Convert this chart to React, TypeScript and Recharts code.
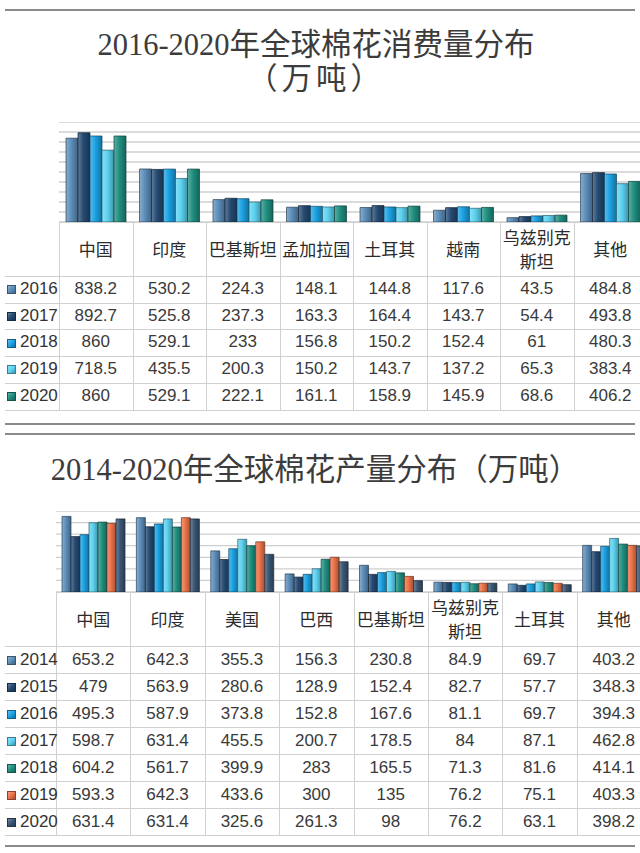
import React from 'react';
import { BarChart, Bar, XAxis, YAxis, CartesianGrid } from 'recharts';

// ---------- Chart 1: consumption ----------
const consTitle1 = '2016-2020年全球棉花消费量分布';
const consTitle2 = '（万吨）';
const consCategories = ['中国', '印度', '巴基斯坦', '孟加拉国', '土耳其', '越南', '乌兹别克斯坦', '其他'];
const consHeaderLines = [['中国'], ['印度'], ['巴基斯坦'], ['孟加拉国'], ['土耳其'], ['越南'], ['乌兹别克', '斯坦'], ['其他']];
const consYears = ['2016', '2017', '2018', '2019', '2020'];
const cons2016 = [838.2, 530.2, 224.3, 148.1, 144.8, 117.6, 43.5, 484.8];
const cons2017 = [892.7, 525.8, 237.3, 163.3, 164.4, 143.7, 54.4, 493.8];
const cons2018 = [860, 529.1, 233, 156.8, 150.2, 152.4, 61, 480.3];
const cons2019 = [718.5, 435.5, 200.3, 150.2, 143.7, 137.2, 65.3, 383.4];
const cons2020 = [860, 529.1, 222.1, 161.1, 158.9, 145.9, 68.6, 406.2];
const consTicks = [0, 100, 200, 300, 400, 500, 600, 700, 800, 900, 1000];

// ---------- Chart 2: production ----------
const prodTitle = '2014-2020年全球棉花产量分布（万吨）';
const prodCategories = ['中国', '印度', '美国', '巴西', '巴基斯坦', '乌兹别克斯坦', '土耳其', '其他'];
const prodHeaderLines = [['中国'], ['印度'], ['美国'], ['巴西'], ['巴基斯坦'], ['乌兹别克', '斯坦'], ['土耳其'], ['其他']];
const prodYears = ['2014', '2015', '2016', '2017', '2018', '2019', '2020'];
const prod2014 = [653.2, 642.3, 355.3, 156.3, 230.8, 84.9, 69.7, 403.2];
const prod2015 = [479, 563.9, 280.6, 128.9, 152.4, 82.7, 57.7, 348.3];
const prod2016 = [495.3, 587.9, 373.8, 152.8, 167.6, 81.1, 69.7, 394.3];
const prod2017 = [598.7, 631.4, 455.5, 200.7, 178.5, 84, 87.1, 462.8];
const prod2018 = [604.2, 561.7, 399.9, 283, 165.5, 71.3, 81.6, 414.1];
const prod2019 = [593.3, 642.3, 433.6, 300, 135, 76.2, 75.1, 403.3];
const prod2020 = [631.4, 631.4, 325.6, 261.3, 98, 76.2, 63.1, 398.2];
const prodTicks = [0, 100, 200, 300, 400, 500, 600, 700];

// ---------- colours ----------
const consColors = ['#5B8DB9', '#254A72', '#1BA1E2', '#5CD2F0', '#1F8F80'];
const prodColors = ['#5B8DB9', '#254A72', '#1BA1E2', '#5CD2F0', '#1F8F80', '#EC7248', '#3A5673'];

const consSeries = [cons2016, cons2017, cons2018, cons2019, cons2020];
const prodSeries = [prod2014, prod2015, prod2016, prod2017, prod2018, prod2019, prod2020];

function buildData(categories: string[], years: string[], series: number[][]) {
  return categories.map((c, i) => {
    const row: Record<string, any> = { name: c };
    years.forEach((y, k) => {
      row['y' + y] = series[k][i];
    });
    return row;
  });
}

const consData = buildData(consCategories, consYears, consSeries);
const prodData = buildData(prodCategories, prodYears, prodSeries);

function shade(hex: string, amt: number) {
  const n = parseInt(hex.slice(1), 16);
  let r = (n >> 16) & 255, g = (n >> 8) & 255, b = n & 255;
  const f = (v: number) => {
    const out = amt >= 0 ? v + (255 - v) * amt : v * (1 + amt);
    return Math.max(0, Math.min(255, Math.round(out)));
  };
  r = f(r); g = f(g); b = f(b);
  return '#' + ((1 << 24) + (r << 16) + (g << 8) + b).toString(16).slice(1);
}

const serifFont = '"Liberation Serif", "DejaVu Serif", "Noto Sans CJK SC", serif';
const cjkFont = '"Noto Sans CJK SC", sans-serif';
const numFont = '"Liberation Sans Narrow", "Liberation Sans", "Noto Sans CJK SC", sans-serif';
const gridColor = '#cfcfcf';
const borderColor = '#d0d0d0';

type BlockProps = {
  id: string;
  data: any[];
  years: string[];
  colors: string[];
  series: number[][];
  headerLines: string[][];
  ticks: number[];
  left: number;
  width: number;
  plotTop: number;
  plotHeight: number;
  headerHeight: number;
  rowTop: number;
  rowHeight: number;
  catGap: number;
};

function Block(p: BlockProps) {
  const n = p.headerLines.length;
  const colW = p.width / n;
  const tableBottom = p.rowTop + p.rowHeight * p.years.length;
  const maxTick = p.ticks[p.ticks.length - 1];
  return (
    <>
      <div style={{ position: 'absolute', left: p.left, top: p.plotTop }}>
        <BarChart
          width={p.width}
          height={p.plotHeight}
          data={p.data}
          margin={{ top: 0, right: 0, bottom: 0, left: 0 }}
          barCategoryGap={p.catGap}
          barGap={0}
        >
          <defs>
            {p.colors.map((c, i) => (
              <linearGradient key={i} id={`${p.id}-g${i}`} x1="0" y1="0" x2="1" y2="0">
                <stop offset="0%" stopColor={shade(c, 0.28)} />
                <stop offset="45%" stopColor={c} />
                <stop offset="100%" stopColor={shade(c, -0.3)} />
              </linearGradient>
            ))}
          </defs>
          <CartesianGrid vertical={false} stroke={gridColor} strokeWidth={1.3} />
          <XAxis dataKey="name" hide />
          <YAxis hide domain={[0, maxTick]} ticks={p.ticks} interval={0} />
          {p.years.map((y, i) => (
            <Bar
              key={y}
              dataKey={'y' + y}
              fill={`url(#${p.id}-g${i})`}
              stroke={shade(p.colors[i], -0.55)}
              strokeWidth={0.7}
              isAnimationActive={false}
            />
          ))}
        </BarChart>
      </div>
      {/* header cells */}
      {p.headerLines.map((lines, i) => (
        <div
          key={'h' + i}
          style={{
            position: 'absolute',
            left: p.left + i * colW,
            top: p.plotTop + p.plotHeight,
            width: colW,
            height: p.headerHeight,
            display: 'flex',
            flexDirection: 'column',
            alignItems: 'center',
            justifyContent: 'center',
            fontFamily: cjkFont,
            fontSize: 17,
            lineHeight: '24px',
            color: '#2b2b2b',
            whiteSpace: 'nowrap',
          }}
        >
          {lines.map((l, k) => (
            <div key={k}>{l}</div>
          ))}
        </div>
      ))}
      {/* header top border */}
      <div style={{ position: 'absolute', left: p.left, top: p.plotTop + p.plotHeight, width: 640 - p.left, height: 1, background: borderColor }} />
      {/* vertical borders */}
      {Array.from({ length: n }).map((_, i) => (
        <div
          key={'v' + i}
          style={{ position: 'absolute', left: p.left + i * colW, top: p.plotTop + p.plotHeight, width: 1, height: tableBottom - (p.plotTop + p.plotHeight), background: borderColor }}
        />
      ))}
      {/* rows */}
      {p.years.map((y, r) => (
        <React.Fragment key={'r' + y}>
          <div style={{ position: 'absolute', left: 5, top: p.rowTop + r * p.rowHeight, width: 635, height: 1, background: borderColor }} />
          <div
            style={{
              position: 'absolute',
              left: 7,
              top: p.rowTop + r * p.rowHeight + p.rowHeight / 2 - 4,
              width: 7,
              height: 7,
              background: `linear-gradient(135deg, ${shade(p.colors[r], 0.3)}, ${p.colors[r]} 50%, ${shade(p.colors[r], -0.3)})`,
              border: `1px solid ${shade(p.colors[r], -0.4)}`,
            }}
          />
          <div
            style={{
              position: 'absolute',
              left: 20,
              top: p.rowTop + r * p.rowHeight,
              height: p.rowHeight,
              lineHeight: p.rowHeight + 'px',
              fontFamily: numFont,
              fontSize: 17,
              color: '#333',
            }}
          >
            {y}
          </div>
          {p.series[r].map((v, i) => (
            <div
              key={i}
              style={{
                position: 'absolute',
                left: p.left + i * colW,
                width: colW,
                top: p.rowTop + r * p.rowHeight,
                height: p.rowHeight,
                lineHeight: p.rowHeight + 'px',
                textAlign: 'center',
                fontFamily: numFont,
                fontSize: 17,
                color: '#3a3a3a',
              }}
            >
              {String(v)}
            </div>
          ))}
        </React.Fragment>
      ))}
      <div style={{ position: 'absolute', left: 5, top: tableBottom, width: 635, height: 1, background: borderColor }} />
    </>
  );
}

export default function App() {
  return (
    <div style={{ position: 'absolute', left: 0, top: 0, width: 640, height: 853, overflow: 'hidden', background: '#fff' }}>
      {/* top rule */}
      <div style={{ position: 'absolute', left: 5, top: 9, width: 630, height: 2, background: '#8a8a8a' }} />
      <div style={{ position: 'absolute', left: 0, width: 632, top: 26, textAlign: 'center', fontFamily: serifFont, fontSize: 30.5, lineHeight: '38px', color: '#3c3c3c' }}>
        {consTitle1}
      </div>
      <div style={{ position: 'absolute', left: 0, width: 632, top: 60, textAlign: 'center', fontFamily: serifFont, fontSize: 30.5, lineHeight: '38px', color: '#3c3c3c', letterSpacing: 4 }}>
        {consTitle2}
      </div>
      <Block
        id="cons"
        data={consData}
        years={consYears}
        colors={consColors}
        series={consSeries}
        headerLines={consHeaderLines}
        ticks={consTicks}
        left={59}
        width={588}
        plotTop={122}
        plotHeight={100}
        headerHeight={54}
        rowTop={276}
        rowHeight={26.7}
        catGap={7}
      />
      <div style={{ position: 'absolute', left: 5, top: 423, width: 630, height: 2, background: '#8a8a8a' }} />

      <div style={{ position: 'absolute', left: 5, top: 433, width: 630, height: 2, background: '#8a8a8a' }} />
      <div style={{ position: 'absolute', left: 0, width: 630, top: 451, textAlign: 'center', fontFamily: serifFont, fontSize: 30.5, lineHeight: '38px', color: '#3c3c3c' }}>
        {prodTitle}
      </div>
      <Block
        id="prod"
        data={prodData}
        years={prodYears}
        colors={prodColors}
        series={prodSeries}
        headerLines={prodHeaderLines}
        ticks={prodTicks}
        left={56}
        width={595}
        plotTop={511}
        plotHeight={81}
        headerHeight={54}
        rowTop={646}
        rowHeight={27}
        catGap={6}
      />
      <div style={{ position: 'absolute', left: 5, top: 845, width: 630, height: 2, background: '#8a8a8a' }} />
    </div>
  );
}
